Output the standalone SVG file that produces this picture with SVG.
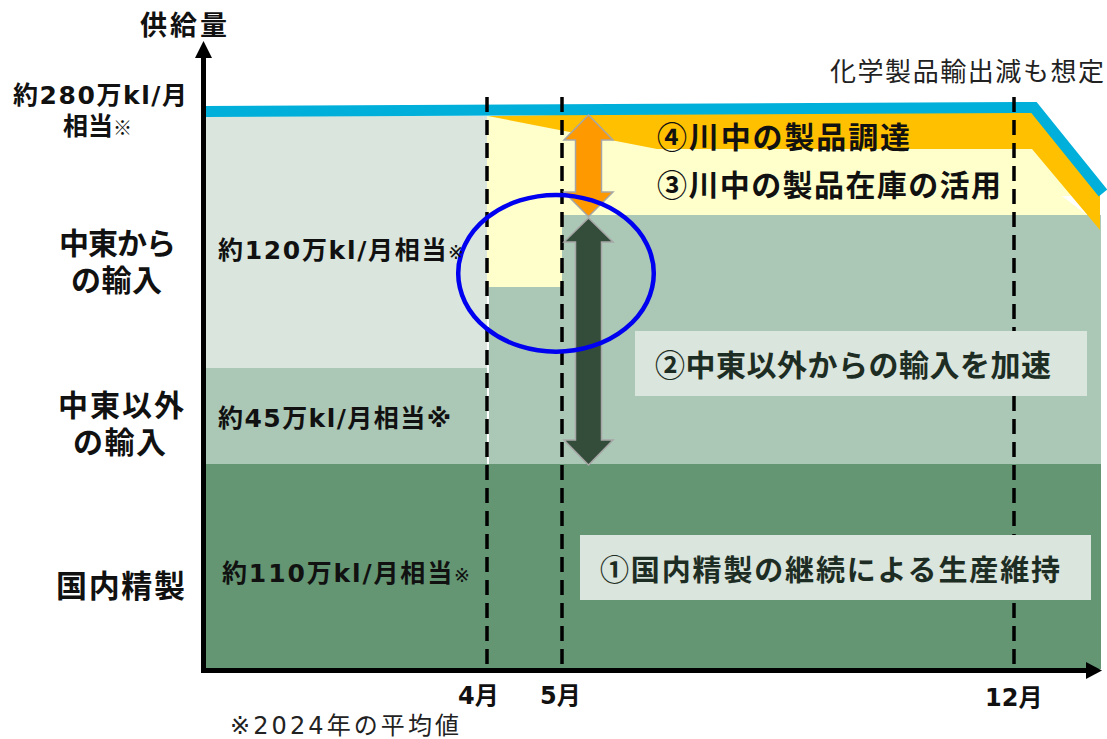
<svg xmlns="http://www.w3.org/2000/svg" width="1107" height="739" viewBox="0 0 1107 739">
<style>
text{font-family:"Noto Sans CJK JP","Noto Sans",sans-serif;}
.w{font-family:"DejaVu Sans","Noto Sans CJK JP",sans-serif;}
.b{font-weight:700;fill:#111;}
.n{font-weight:400;fill:#222;}
.bx{font-weight:700;fill:#1E2D23;}
.dash{stroke:#000;stroke-width:3.5;stroke-dasharray:15 8;fill:none;}
.axis{stroke:#000;stroke-width:5;fill:none;}
</style>
<rect width="1107" height="739" fill="#fff"/>
<g id="band-mideast">
<rect x="206" y="116" width="281" height="252" fill="#D9E5DD"/>
</g>
<g id="band-other">
<rect x="206" y="368" width="281" height="96" fill="#ABC7B6"/>
<rect x="489" y="287" width="73" height="177" fill="#ABC7B6"/>
<rect x="562" y="215" width="539" height="249" fill="#ABC7B6"/>
</g>
<g id="band-domestic">
<rect x="206" y="464" width="895" height="205" fill="#649673"/>
</g>
<g id="band-stock">
<polygon points="487,116 1032,116 1071,196 1062,196 1087,215 562,215 562,287 487,287" fill="#FFFFCC"/>
</g>
<g id="band-procure">
<polygon points="488,116 1036,108 1100,190 1100,230 1032,149 657,149" fill="#FFC000"/>
</g>
<g id="supply-line">
<polyline points="205,111.5 1034,107.5 1103,193" fill="none" stroke="#00B0DA" stroke-width="11" stroke-linejoin="miter"/>
</g>
<g id="month-lines">
<line class="dash" x1="487" y1="97" x2="487" y2="668"/>
<line class="dash" x1="562" y1="97" x2="562" y2="668"/>
<line class="dash" x1="1014" y1="97" x2="1014" y2="668"/>
</g>
<g id="box-2">
<rect x="635" y="331" width="452" height="65" fill="#D9E5DD"/>
<text class="bx" x="655" y="376" font-size="30" textLength="396">②中東以外からの輸入を加速</text>
</g>
<g id="box-1">
<rect x="580" y="535" width="511" height="65" fill="#D9E5DD"/>
<text class="bx" x="600" y="581" font-size="29" textLength="460">①国内精製の継続による生産維持</text>
</g>
<g id="connectors">
<polygon points="588.5,115 613,140 601.5,140 601.5,192 613,192 588.5,216.5 564,192 575.5,192 575.5,140 564,140" fill="#FF9900" stroke="#A6A6A6" stroke-width="1.5"/>
<polygon points="588.5,218 613,242 601.5,242 601.5,440 613,440 588.5,465 564,440 575.5,440 575.5,242 564,242" fill="#344C3A" stroke="#A6A6A6" stroke-width="1.5"/>
</g>
<g id="highlight">
<ellipse cx="556" cy="273.3" rx="97.8" ry="78.4" fill="none" stroke="#0000F0" stroke-width="4.5"/>
</g>
<g id="axes">
<line class="axis" x1="203.5" y1="56" x2="203.5" y2="673"/>
<polygon points="203.5,41 212,58 195,58" fill="#000"/>
<line class="axis" x1="201" y1="670.5" x2="1087" y2="670.5"/>
<polygon points="1102,670.5 1086,662 1086,679" fill="#000"/>
</g>
<g id="labels">
<text class="b" x="140" y="35" font-size="27" textLength="87">供給量</text>
<text class="b w" x="13" y="104" font-size="25" textLength="174">約280万kl/月</text>
<text class="b" x="63" y="135" font-size="25">相当<tspan font-size="19" font-weight="400">※</tspan></text>
<text class="b" x="59" y="254" font-size="30" textLength="117">中東から</text>
<text class="b" x="71" y="291" font-size="30" textLength="91">の輸入</text>
<text class="b" x="58" y="416" font-size="30" textLength="126">中東以外</text>
<text class="b" x="73" y="453" font-size="30" textLength="93">の輸入</text>
<text class="b" x="56" y="597" font-size="31" textLength="129">国内精製</text>
<text class="b w" x="218" y="259" font-size="25" textLength="246">約120万kl/月相当<tspan font-size="19" font-weight="400">※</tspan></text>
<text class="b w" x="218" y="427" font-size="25" textLength="233">約45万kl/月相当※</text>
<text class="b w" x="222" y="582" font-size="25" textLength="248">約110万kl/月相当<tspan font-size="19" font-weight="400">※</tspan></text>
<text class="n" x="830" y="81" font-size="26" textLength="274">化学製品輸出減も想定</text>
<text class="b" x="657" y="148" font-size="30" textLength="253">④川中の製品調達</text>
<text class="b" x="657" y="196" font-size="30" textLength="344">③川中の製品在庫の活用</text>
<text class="b w" x="458" y="704" font-size="24">4月</text>
<text class="b w" x="540" y="704" font-size="24">5月</text>
<text class="b w" x="985" y="706" font-size="24">12月</text>
<text class="n w" x="230" y="734" font-size="24" textLength="229">※2024年の平均値</text>
</g>
</svg>
